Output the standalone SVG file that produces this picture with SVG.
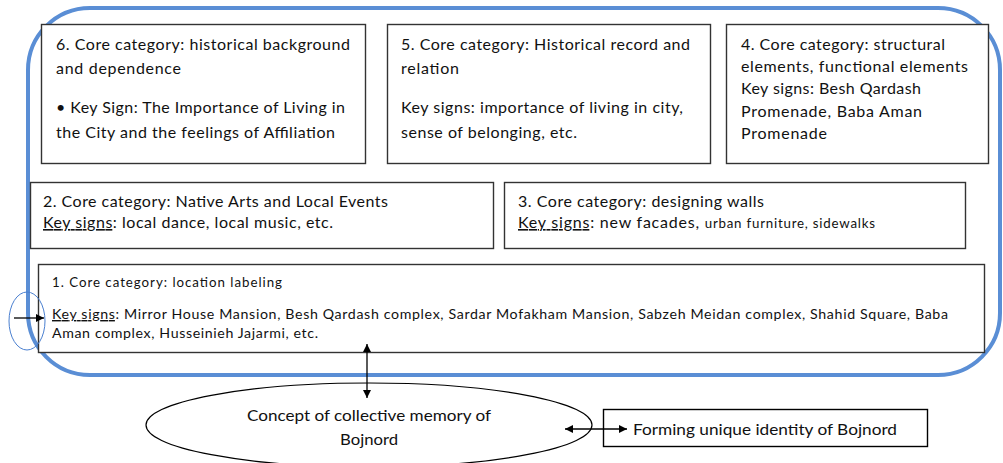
<svg xmlns="http://www.w3.org/2000/svg" width="1003" height="463" viewBox="0 0 1003 463">
<style>
.box{fill:#fff;stroke:#333;stroke-width:1.4}
.t{font-family:Lato,"Liberation Sans",sans-serif;font-size:16px;fill:#111}
.s{font-size:13.3px}
.m{font-size:14.2px}
.u{text-decoration:underline}
.c{stroke:#000;stroke-width:1.3;fill:none}
</style>
<defs>
<marker id="ah" viewBox="0 0 10 10" refX="10" refY="5" markerWidth="8" markerHeight="8" markerUnits="userSpaceOnUse" orient="auto-start-reverse">
<path d="M0,0 L10,5 L0,10 z" fill="#000"/>
</marker>
</defs>
<rect x="0" y="0" width="1003" height="463" fill="#fff"/>
<g id="frame">
<rect x="28" y="8" width="972" height="367" rx="62" ry="62" fill="none" stroke="#5A8ED5" stroke-width="4"/>
</g>
<g id="node6">
<rect class="box" x="41.5" y="24.5" width="324" height="139"/>
<text class="t" x="56" y="50" textLength="294" lengthAdjust="spacing">6. Core category: historical background</text>
<text class="t" x="56" y="74" textLength="125" lengthAdjust="spacing">and dependence</text>
<text class="t" x="56" y="113" textLength="289" lengthAdjust="spacing">• Key Sign: The Importance of Living in</text>
<text class="t" x="56" y="138" textLength="279" lengthAdjust="spacing">the City and the feelings of Affiliation</text>
</g>
<g id="node5">
<rect class="box" x="387.5" y="24.5" width="323" height="139"/>
<text class="t" x="401" y="50" textLength="289" lengthAdjust="spacing">5. Core category: Historical record and</text>
<text class="t" x="401" y="74" textLength="58" lengthAdjust="spacing">relation</text>
<text class="t" x="401" y="113" textLength="282" lengthAdjust="spacing">Key signs: importance of living in city,</text>
<text class="t" x="401" y="138" textLength="176" lengthAdjust="spacing">sense of belonging, etc.</text>
</g>
<g id="node4">
<rect class="box" x="726.5" y="24.5" width="262" height="139"/>
<text class="t" x="741" y="50" textLength="204" lengthAdjust="spacing">4. Core category: structural</text>
<text class="t" x="741" y="72" textLength="227" lengthAdjust="spacing">elements, functional elements</text>
<text class="t" x="741" y="94" textLength="180" lengthAdjust="spacing">Key signs: Besh Qardash</text>
<text class="t" x="741" y="117" textLength="181" lengthAdjust="spacing">Promenade, Baba Aman</text>
<text class="t" x="741" y="139" textLength="86" lengthAdjust="spacing">Promenade</text>
</g>
<g id="node2">
<rect class="box" x="30.5" y="182.5" width="463" height="66"/>
<text class="t" x="43" y="207" textLength="345" lengthAdjust="spacing">2. Core category: Native Arts and Local Events</text>
<text class="t" x="43" y="228" textLength="290" lengthAdjust="spacing"><tspan class="u">Key signs</tspan>: local dance, local music, etc.</text>
</g>
<g id="node3">
<rect class="box" x="504.5" y="182.5" width="461" height="66"/>
<text class="t" x="518" y="207" textLength="246" lengthAdjust="spacing">3. Core category: designing walls</text>
<text class="t" x="518" y="228" textLength="357" lengthAdjust="spacing"><tspan class="u">Key signs</tspan>: new facades, <tspan class="s">urban furniture, sidewalks</tspan></text>
</g>
<g id="node1">
<rect class="box" x="38.5" y="264.5" width="946" height="88"/>
<text class="t s" x="52" y="287" textLength="230" lengthAdjust="spacing">1. Core category: location labeling</text>
<text class="t m" x="52" y="319" textLength="896" lengthAdjust="spacing"><tspan class="u">Key signs</tspan>: Mirror House Mansion, Besh Qardash complex, Sardar Mofakham Mansion, Sabzeh Meidan complex, Shahid Square, Baba</text>
<text class="t m" x="52" y="338" textLength="266" lengthAdjust="spacing">Aman complex, Husseinieh Jajarmi, etc.</text>
</g>
<g id="marker-ellipse">
<ellipse cx="27" cy="321" rx="18" ry="29" fill="none" stroke="#4A7FD0" stroke-width="1"/>
</g>
<g id="concept">
<ellipse cx="369" cy="425" rx="223" ry="42" fill="#fff" stroke="#000" stroke-width="1.2"/>
<text class="t" x="247" y="421" textLength="244" lengthAdjust="spacingAndGlyphs">Concept of collective memory of</text>
<text class="t" x="340" y="445" textLength="58" lengthAdjust="spacingAndGlyphs">Bojnord</text>
</g>
<g id="identity">
<rect class="box" x="603.5" y="409.5" width="324" height="37" style="stroke:#000"/>
<text class="t" x="633" y="435" textLength="264" lengthAdjust="spacingAndGlyphs">Forming unique identity of Bojnord</text>
</g>
<g id="connectors">
<line class="c" x1="367" y1="344" x2="367" y2="398" marker-start="url(#ah)" marker-end="url(#ah)"/>
<line class="c" x1="565" y1="429" x2="627" y2="429" marker-start="url(#ah)" marker-end="url(#ah)"/>
<line class="c" x1="14" y1="318" x2="44" y2="318" marker-end="url(#ah)"/>
</g>
</svg>
